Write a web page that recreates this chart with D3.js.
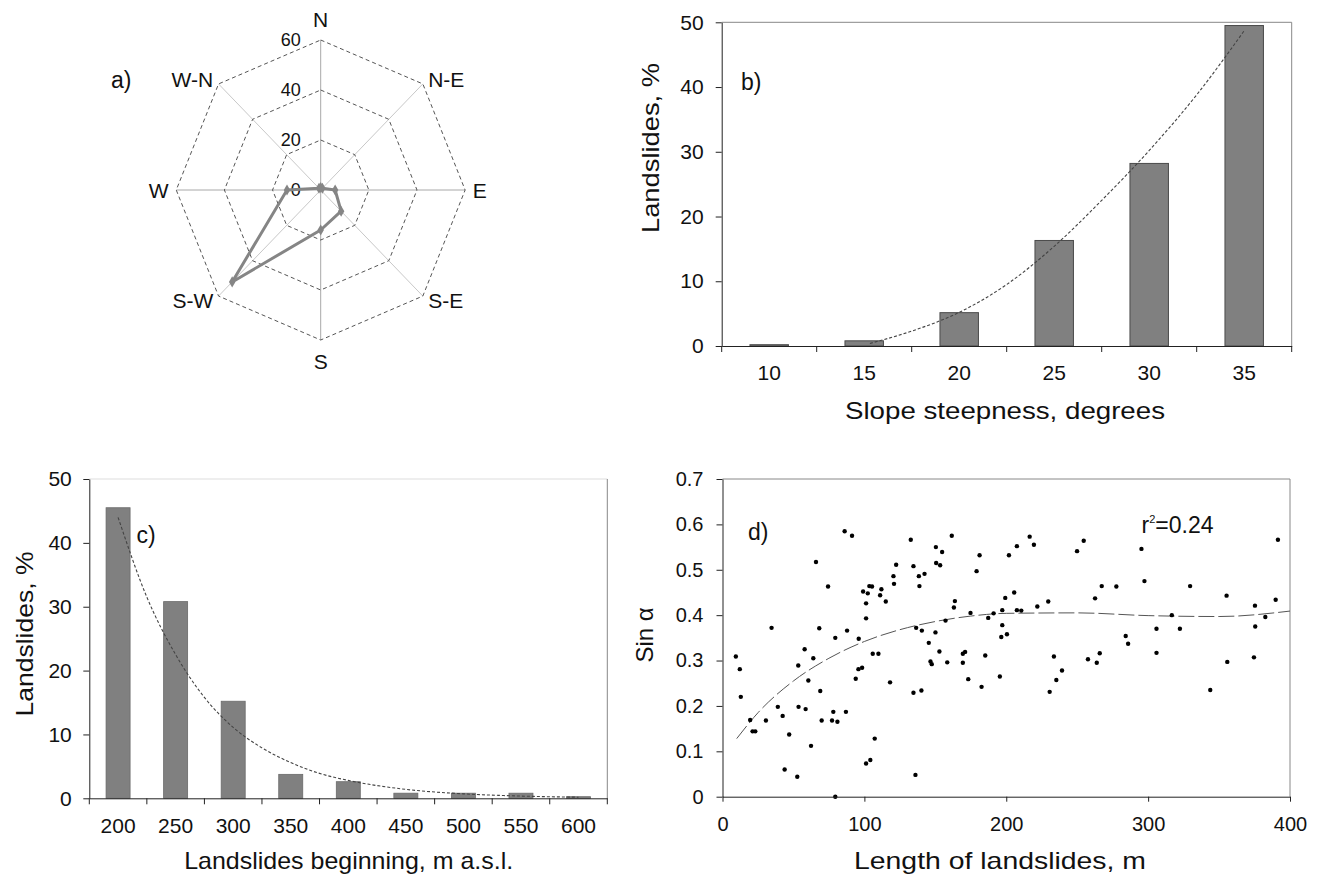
<!DOCTYPE html>
<html>
<head>
<meta charset="utf-8">
<script src="https://cdn.jsdelivr.net/npm/d3@7"></script>
<style>
  body { margin: 0; background: #fff; }
  text { font-family: "Liberation Sans", Arial, sans-serif; fill: #111; }
</style>
</head>
<body>
<script>
// a) aspect of slopes, % of landslides
var directions = ["N", "N-E", "E", "S-E", "S", "S-W", "W", "W-N"];
var aspectVals = [1, 1, 6, 12, 16, 52, 14, 1];
var aspectTicks = [0, 20, 40, 60];

// b) slope steepness
var slopeCats = [10, 15, 20, 25, 30, 35];
var slopeVals = [0.2, 0.8, 5.15, 16.3, 28.2, 49.5];
var slopeTrend = [[15.3, 0.4], [17.5, 2.3], [20, 5.2], [22.5, 9.5], [25, 15.4], [27.5, 22.5], [30, 30.2], [32.5, 38.8], [35, 48.7]];

// c) landslides beginning altitude
var altCats = [200, 250, 300, 350, 400, 450, 500, 550, 600];
var altVals = [45.5, 30.8, 15.2, 3.75, 2.6, 0.8, 0.8, 0.8, 0.25];
var altTrend = [[200, 44], [225, 31.5], [250, 22.5], [275, 15.8], [300, 11.1], [325, 7.9], [350, 5.6], [375, 3.9], [400, 2.8], [450, 1.4], [500, 0.7], [550, 0.35], [600, 0.17]];

// d) length vs sin alpha
var lenSin = [[9.4,0.309],[12.2,0.281],[12.9,0.220],[19.5,0.169],[21.2,0.144],[23.1,0.144],[30.6,0.168],[34.6,0.372],[39,0.198],[42.4,0.178],[43.8,0.060],[47,0.137],[52.7,0.044],[53.4,0.289],[53.6,0.198],[57.9,0.325],[58.6,0.193],[60.5,0.256],[62.4,0.112],[64,0.305],[65.9,0.517],[68.2,0.371],[68.9,0.233],[69.9,0.168],[74.4,0.463],[77.2,0.168],[78.1,0.187],[79.5,0.350],[79.5,0.0],[81,0.165],[86.1,0.585],[87,0.187],[87.8,0.366],[91.3,0.575],[93.9,0.260],[95.8,0.281],[96,0.348],[98.4,0.284],[99.1,0.452],[101.2,0.426],[101.2,0.393],[101.2,0.073],[102.4,0.448],[103.5,0.464],[104.2,0.081],[105.4,0.463],[105.9,0.315],[107.3,0.128],[109.9,0.315],[111.1,0.444],[112,0.457],[115.1,0.430],[118.1,0.252],[120.5,0.486],[120.9,0.469],[122.4,0.511],[132.7,0.566],[134.6,0.508],[134.6,0.229],[136,0.048],[136.5,0.372],[138.4,0.486],[138.8,0.464],[140.5,0.366],[140.2,0.234],[142.4,0.491],[145.4,0.339],[146.6,0.298],[147.5,0.292],[150.1,0.362],[150.4,0.550],[150.6,0.515],[153.4,0.510],[152.9,0.320],[154.8,0.539],[157.2,0.388],[158.4,0.296],[161.6,0.575],[163.1,0.417],[163.8,0.431],[169.4,0.295],[169.4,0.315],[171,0.319],[173.2,0.259],[174.8,0.405],[179.1,0.497],[181.2,0.532],[182.6,0.242],[185.2,0.311],[187.3,0.394],[191.1,0.404],[195.5,0.265],[196.5,0.352],[197.2,0.378],[197.2,0.411],[199.3,0.438],[200.5,0.358],[201.9,0.532],[205.6,0.450],[207.5,0.411],[207.5,0.552],
  [210.6,0.410],[216.5,0.573],[219.5,0.555],[221.9,0.419],[229.6,0.430],[230.6,0.231],[233.6,0.309],[235.3,0.257],[239.3,0.278],[249.9,0.541],[254.6,0.564],[257.6,0.303],[262.6,0.437],[263.8,0.295],[265.9,0.316],[267.3,0.464],[277.6,0.463],[284.2,0.354],[285.9,0.337],[295.3,0.546],[297.4,0.475],[305.9,0.370],[305.9,0.317],[316.7,0.400],[322.4,0.370],[329.6,0.464],[343.8,0.235],[355.3,0.443],[355.8,0.297],[374.6,0.307],[375.3,0.421],[375.5,0.375],[382.6,0.396],[389.9,0.434],[391.5,0.566]];
var lenTrend = [[10,0.128],[25,0.185],[50,0.255],[75,0.305],[100,0.342],[125,0.368],[150,0.386],[175,0.398],[200,0.404],[250,0.405],[300,0.399],[350,0.397],[400,0.409]];
var lenTicks = [0, 100, 200, 300, 400];
var sinTicks = [0, 0.1, 0.2, 0.3, 0.4, 0.5, 0.6, 0.7];

var svg = d3.select("body").append("svg").attr("width", 1327).attr("height", 879);
svg.append("rect").attr("width", 1327).attr("height", 879).attr("fill", "#fff");

var tickFont = 21, titleFont = 24;

function styleAxis(g, size) {
  g.selectAll("text").style("font-size", size + "px").attr("fill", "#111");
  g.selectAll("line").attr("stroke", "#222");
  g.select(".domain").attr("stroke", "#222");
}

//----- a) radar
var cx = 320.7, cy = 190, sx = 0.963;
var rA = d3.scaleLinear().domain([0, 60]).range([0, 150]);
var angA = d3.scaleLinear().domain([0, directions.length]).range([0, 2 * Math.PI]);
function pt(i, v) {
  var a = angA(i);
  return [cx + Math.sin(a) * rA(v) * sx, cy - Math.cos(a) * rA(v)];
}
var gA = svg.append("g");
directions.forEach(function (d, i) {
  var p = pt(i, 60);
  gA.append("line").attr("x1", cx).attr("y1", cy).attr("x2", p[0]).attr("y2", p[1])
    .attr("stroke", i % 2 ? "#c8c8c8" : "#a8a8a8").attr("stroke-width", 1);
});
aspectTicks.filter(function (t) { return t > 0; }).forEach(function (t) {
  gA.append("path")
    .attr("d", d3.line().curve(d3.curveLinearClosed)(directions.map(function (d, i) { return pt(i, t); })))
    .attr("fill", "none").attr("stroke", "#555").attr("stroke-width", 1).attr("stroke-dasharray", "4,3");
});
aspectTicks.forEach(function (t) {
  gA.append("text").attr("x", cx - 20).attr("y", cy - rA(t)).attr("text-anchor", "end")
    .attr("dominant-baseline", "central").style("font-size", "18px").text(t);
});
directions.forEach(function (d, i) {
  var a = angA(i), s = Math.sin(a), c = Math.cos(a);
  var ly = i % 2 ? 156 : 171;
  gA.append("text")
    .attr("x", cx + s * 152).attr("y", cy - c * ly)
    .attr("text-anchor", s > 0.1 ? "start" : (s < -0.1 ? "end" : "middle"))
    .attr("dominant-baseline", "central").style("font-size", "21px").text(d);
});
gA.append("path")
  .attr("d", d3.line().curve(d3.curveLinearClosed)(aspectVals.map(function (v, i) { return pt(i, v); })))
  .attr("fill", "none").attr("stroke", "#858585").attr("stroke-width", 3).attr("stroke-linejoin", "round");
gA.selectAll(".mk").data(aspectVals).enter().append("path")
  .attr("transform", function (v, i) { var p = pt(i, v); return "translate(" + p[0] + "," + p[1] + ")"; })
  .attr("d", d3.symbol(d3.symbolDiamond).size(36)).attr("fill", "#858585");
gA.append("text").attr("x", 111).attr("y", 88).style("font-size", "23px").text("a)");

//----- b) slope steepness
var xB = d3.scaleBand().domain(slopeCats).range([721.7, 1291.7]).paddingInner(0.595).paddingOuter(0.2975);
var yB = d3.scaleLinear().domain([0, 50]).range([346, 22.3]);
var xBl = d3.scaleLinear().domain([10, 35]).range([xB(10) + xB.bandwidth() / 2, xB(35) + xB.bandwidth() / 2]);
var gB = svg.append("g");
gB.append("line").attr("x1", 721.7).attr("x2", 1291.7).attr("y1", 22.3).attr("y2", 22.3).attr("stroke", "#888");
gB.append("line").attr("x1", 1291.7).attr("x2", 1291.7).attr("y1", 22.3).attr("y2", 346).attr("stroke", "#888");
gB.selectAll(".bar").data(slopeVals).enter().append("rect")
  .attr("x", function (v, i) { return xB(slopeCats[i]); })
  .attr("y", function (v) { return yB(v); })
  .attr("width", xB.bandwidth())
  .attr("height", function (v) { return yB(0) - yB(v); })
  .attr("fill", "#808080").attr("stroke", "#4a4a4a").attr("stroke-width", 1);
gB.append("path")
  .attr("d", d3.line().curve(d3.curveMonotoneX).x(function (d) { return xBl(d[0]); }).y(function (d) { return yB(d[1]); })(slopeTrend))
  .attr("fill", "none").attr("stroke", "#444").attr("stroke-width", 1.1).attr("stroke-dasharray", "3,2");
var ayB = gB.append("g").attr("transform", "translate(721.7,0)")
  .call(d3.axisLeft(yB).ticks(5).tickSize(6).tickPadding(12).tickSizeOuter(0));
styleAxis(ayB, tickFont);
var axB = gB.append("g").attr("transform", "translate(0,346)")
  .call(d3.axisBottom(xB).tickSize(0).tickPadding(19));
styleAxis(axB, tickFont);
gB.selectAll(".btick").data(d3.range(slopeCats.length + 1)).enter().append("line")
  .attr("x1", function (i) { return xB.range()[0] + i * xB.step(); })
  .attr("x2", function (i) { return xB.range()[0] + i * xB.step(); })
  .attr("y1", 346).attr("y2", 352).attr("stroke", "#222");
gB.append("text").attr("x", 1005).attr("y", 419).attr("text-anchor", "middle")
  .attr("textLength", 320).attr("lengthAdjust", "spacingAndGlyphs")
  .style("font-size", titleFont + "px").text("Slope steepness,  degrees");
gB.append("text").attr("transform", "translate(659,148) rotate(-90)").attr("text-anchor", "middle")
  .attr("textLength", 170).attr("lengthAdjust", "spacingAndGlyphs")
  .style("font-size", titleFont + "px").text("Landslides,  %");
gB.append("text").attr("x", 741).attr("y", 90).style("font-size", "23px").text("b)");

//----- c) altitude
var xC = d3.scaleBand().domain(altCats).range([89.3, 607.3]).paddingInner(0.583).paddingOuter(0.2915);
var yC = d3.scaleLinear().domain([0, 50]).range([798.3, 479]);
var xCl = d3.scaleLinear().domain([200, 600]).range([xC(200) + xC.bandwidth() / 2, xC(600) + xC.bandwidth() / 2]);
var gC = svg.append("g");
gC.append("line").attr("x1", 89.3).attr("x2", 607.3).attr("y1", 479).attr("y2", 479).attr("stroke", "#ddd");
gC.append("line").attr("x1", 607.3).attr("x2", 607.3).attr("y1", 479).attr("y2", 798.3).attr("stroke", "#888");
gC.selectAll(".bar").data(altVals).enter().append("rect")
  .attr("x", function (v, i) { return xC(altCats[i]); })
  .attr("y", function (v) { return yC(v); })
  .attr("width", xC.bandwidth())
  .attr("height", function (v) { return yC(0) - yC(v); })
  .attr("fill", "#808080").attr("stroke", "#6a6a6a").attr("stroke-width", 0.8);
gC.append("path")
  .attr("d", d3.line().curve(d3.curveMonotoneX).x(function (d) { return xCl(d[0]); }).y(function (d) { return yC(d[1]); })(altTrend))
  .attr("fill", "none").attr("stroke", "#444").attr("stroke-width", 1.1).attr("stroke-dasharray", "3,2");
var ayC = gC.append("g").attr("transform", "translate(89.3,0)")
  .call(d3.axisLeft(yC).ticks(5).tickSize(6).tickPadding(11.5).tickSizeOuter(0));
styleAxis(ayC, tickFont);
var axC = gC.append("g").attr("transform", "translate(0,798.3)")
  .call(d3.axisBottom(xC).tickSize(0).tickPadding(20));
styleAxis(axC, tickFont);
gC.selectAll(".ctick").data(d3.range(altCats.length + 1)).enter().append("line")
  .attr("x1", function (i) { return xC.range()[0] + i * xC.step(); })
  .attr("x2", function (i) { return xC.range()[0] + i * xC.step(); })
  .attr("y1", 798.3).attr("y2", 804.3).attr("stroke", "#222");
gC.append("text").attr("x", 348.7).attr("y", 869).attr("text-anchor", "middle")
  .attr("textLength", 329).attr("lengthAdjust", "spacingAndGlyphs")
  .style("font-size", titleFont + "px").text("Landslides beginning,  m a.s.l.");
gC.append("text").attr("transform", "translate(33,634) rotate(-90)").attr("text-anchor", "middle")
  .attr("textLength", 165).attr("lengthAdjust", "spacingAndGlyphs")
  .style("font-size", titleFont + "px").text("Landslides,  %");
gC.append("text").attr("x", 136.5).attr("y", 543).style("font-size", "23px").text("c)");

//----- d) length vs sin
var xD = d3.scaleLinear().domain([0, 400]).range([722.5, 1290]);
var yD = d3.scaleLinear().domain([0, 0.7]).range([796.7, 479]);
var gD = svg.append("g");
gD.append("line").attr("x1", 722.5).attr("x2", 1290).attr("y1", 479).attr("y2", 479).attr("stroke", "#888");
gD.append("line").attr("x1", 1290).attr("x2", 1290).attr("y1", 479).attr("y2", 796.7).attr("stroke", "#888");
gD.append("path")
  .attr("d", d3.line().curve(d3.curveMonotoneX).x(function (d) { return xD(d[0]); }).y(function (d) { return yD(d[1]); })(lenTrend))
  .attr("fill", "none").attr("stroke", "#555").attr("stroke-width", 1).attr("stroke-dasharray", "16,4");
gD.selectAll(".dot").data(lenSin).enter().append("circle")
  .attr("cx", function (d) { return xD(d[0]); })
  .attr("cy", function (d) { return yD(d[1]); })
  .attr("r", 2.2).attr("fill", "#000");
var ayD = gD.append("g").attr("transform", "translate(722.5,0)")
  .call(d3.axisLeft(yD).tickValues(sinTicks).tickFormat(d3.format(".1~f")).tickSize(6).tickPadding(13).tickSizeOuter(0));
styleAxis(ayD, 20);
var axD = gD.append("g").attr("transform", "translate(0,796.7)")
  .call(d3.axisBottom(xD).tickValues(lenTicks).tickSize(5).tickPadding(15).tickSizeOuter(0));
styleAxis(axD, 20);
gD.append("text").attr("x", 1000).attr("y", 869).attr("text-anchor", "middle")
  .attr("textLength", 292).attr("lengthAdjust", "spacingAndGlyphs")
  .style("font-size", titleFont + "px").text("Length of landslides,  m");
gD.append("text").attr("transform", "translate(653,635) rotate(-90)").attr("text-anchor", "middle")
  .style("font-size", titleFont + "px").text("Sin α");
gD.append("text").attr("x", 748).attr("y", 540).style("font-size", "23px").text("d)");
var r2 = gD.append("text").attr("x", 1141.5).attr("y", 533).style("font-size", "23px");
r2.append("tspan").text("r");
r2.append("tspan").attr("dy", -10).style("font-size", "11px").text("2");
r2.append("tspan").attr("dy", 10).text("=0.24");
</script>
</body>
</html>
